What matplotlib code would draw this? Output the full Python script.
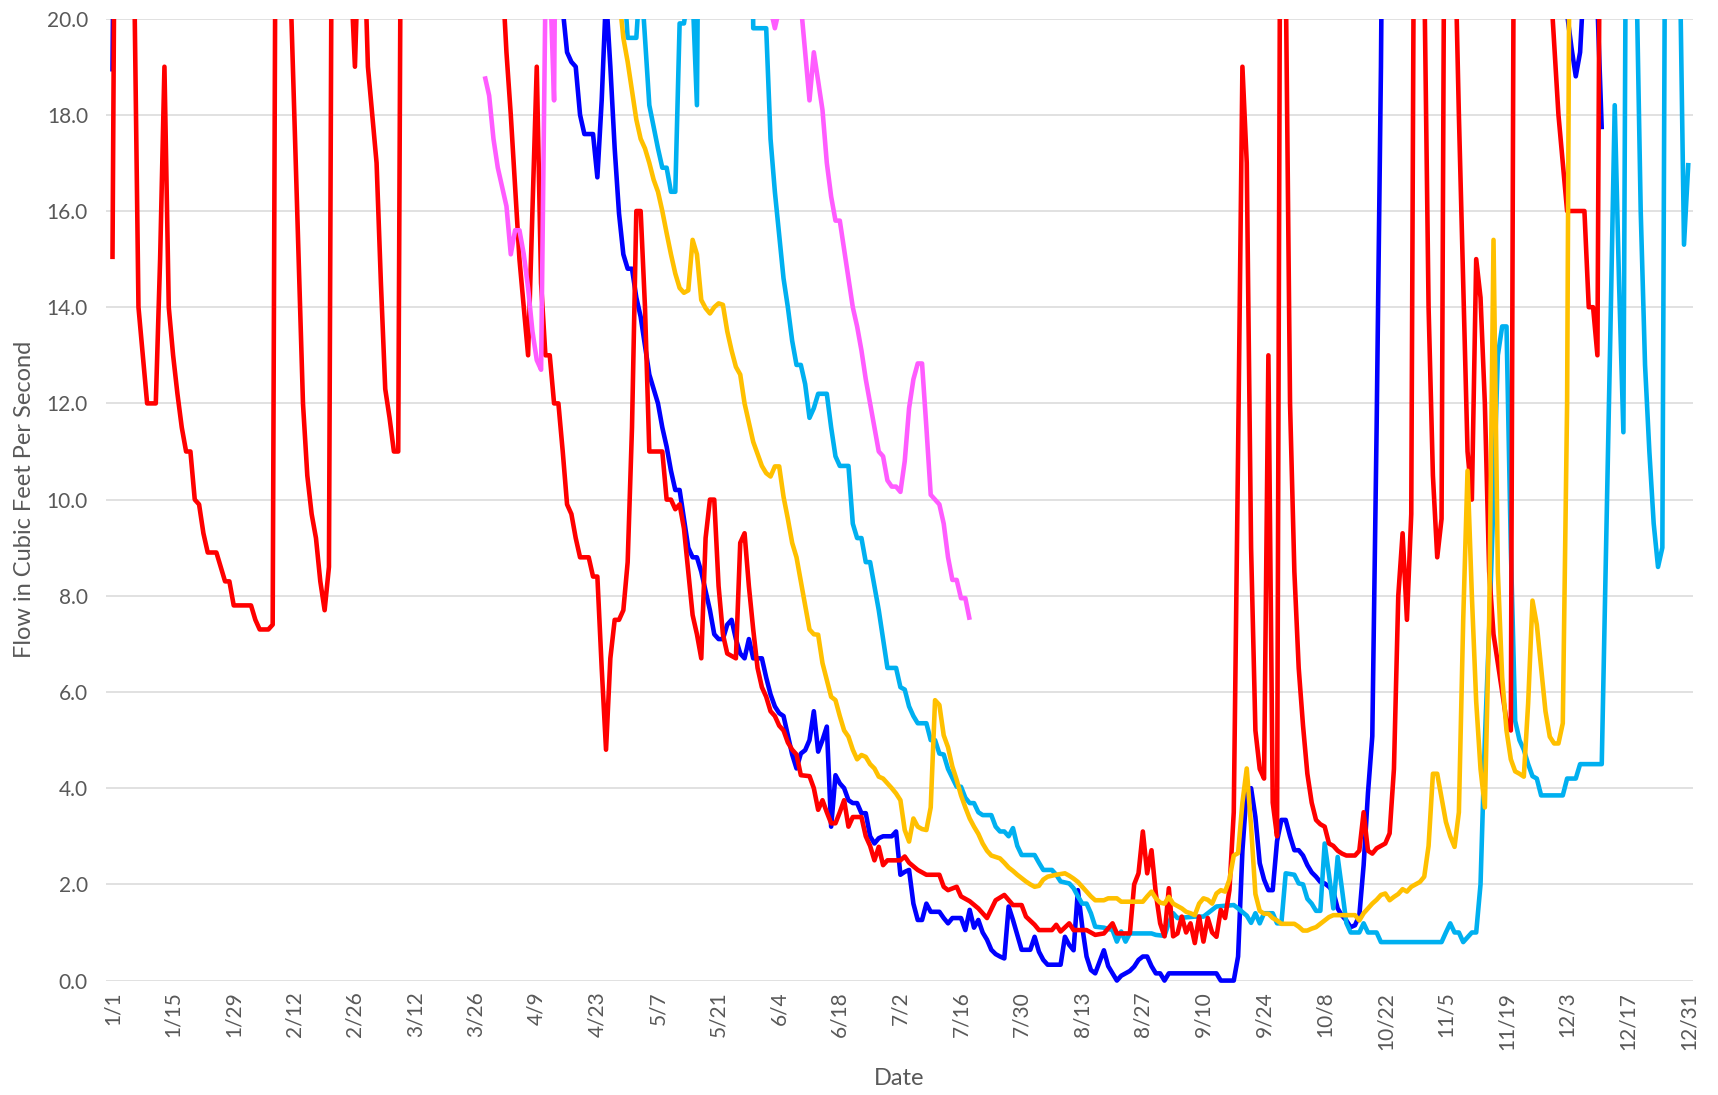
import matplotlib
matplotlib.use("Agg")
import matplotlib.pyplot as plt
import numpy as np
from matplotlib.patches import Rectangle

plt.rcParams['font.family'] = ['Lato', 'DejaVu Sans']

# day of year (0 = 1/1) and flow in cfs; values above 20 run off the top of the chart
red_days = [0, 1, 4, 5, 6, 7, 8, 10, 11, 12, 13, 14, 15, 16, 17, 18, 19, 20, 21, 22, 24, 25, 26, 27, 28, 32, 33, 34, 36, 37, 38,
            40, 41, 42, 43, 44, 45, 46, 47, 48, 49, 50, 51, 54, 55, 56, 57, 58, 59, 60, 61, 62, 63, 64, 65, 66, 67,
            89, 90, 91, 92, 93, 94, 95, 96, 97, 98, 99, 100, 101, 102, 103, 104, 105, 106, 107, 108, 110, 111, 112, 113,
            114, 115, 116, 117, 118, 119, 120, 121, 122, 123, 124, 127, 128, 129, 130, 131, 132, 133, 134, 135, 136, 137,
            138, 139, 140, 141, 142, 144, 145, 146, 147, 148, 149, 150, 151, 152, 153, 154, 155, 156, 157, 158, 159, 161,
            162, 163, 164, 165, 166, 167, 168, 169, 170, 171, 173, 174, 175, 176, 177, 178, 179, 182, 183, 184, 186, 188,
            191, 192, 193, 195, 196, 198, 200, 202, 204, 206, 208, 210, 211, 213, 214, 217, 218, 219, 221, 222, 225, 227,
            229, 231, 232, 235, 236, 237, 238, 239, 240, 241, 242, 243, 244, 245, 246, 247, 248, 249, 250, 251, 252, 253,
            254, 255, 256, 257, 258, 259, 260, 261, 262, 263, 264, 265, 266, 267, 268, 269, 270, 271, 272, 273, 274, 275,
            276, 277, 278, 279, 280, 281, 282, 283, 284, 285, 287, 288, 289, 290, 291, 292, 293, 294, 295, 296, 297, 298,
            299, 300, 301, 302, 303, 304, 305, 306, 307, 308, 309, 310, 311, 312, 313, 314, 315, 316, 317, 318, 319, 320,
            321, 322, 323, 324, 331, 332, 333, 334, 335, 336, 340, 341, 342, 343, 344]
red_flow = [15, 30, 30, 21, 14, 13, 12, 12, 15, 19, 14, 13, 12.2, 11.5, 11, 11, 10, 9.9, 9.3, 8.9, 8.9, 8.6, 8.3, 8.3, 7.8, 7.8, 7.5, 7.3, 7.3, 7.4, 30,
            30, 21, 18, 15, 12, 10.5, 9.7, 9.2, 8.3, 7.7, 8.6, 30, 30, 21, 19, 22, 22, 19, 18, 17, 14.5, 12.3, 11.7, 11, 11, 30,
            30, 21, 19.3, 18, 16.5, 15, 14, 13, 16, 19, 14.5, 13, 13, 12, 12, 11, 9.9, 9.7, 9.2, 8.8, 8.8, 8.4, 8.4, 6.5,
            4.8, 6.7, 7.5, 7.5, 7.7, 8.7, 11.5, 16, 16, 14, 11, 11, 10, 10, 9.8, 9.9, 9.4, 8.5, 7.6, 7.2, 6.7, 9.2,
            10, 10, 8.2, 7.2, 6.8, 6.7, 9.1, 9.3, 8.2, 7.3, 6.5, 6.1, 5.9, 5.6, 5.5, 5.3, 5.2, 4.95, 4.8, 4.7, 4.27, 4.25,
            4.0, 3.55, 3.75, 3.5, 3.27, 3.27, 3.5, 3.75, 3.2, 3.4, 3.4, 3.0, 2.8, 2.5, 2.78, 2.4, 2.5, 2.5, 2.58, 2.45, 2.3, 2.2,
            2.2, 1.95, 1.88, 1.95, 1.75, 1.65, 1.5, 1.3, 1.67, 1.78, 1.57, 1.57, 1.33, 1.16, 1.05, 1.05, 1.16, 1.02, 1.19, 1.05, 1.05, 0.95,
            0.98, 1.19, 0.98, 0.98, 2.0, 2.23, 3.1, 2.23, 2.71, 1.81, 1.19, 0.92, 1.92, 0.92, 0.98, 1.33, 1.0, 1.19, 0.78, 1.33, 0.81, 1.3,
            1.0, 0.91, 1.47, 1.3, 1.88, 3.5, 11, 19, 17, 9, 5.2, 4.4, 4.2, 13, 3.7, 3.0, 30, 21, 12, 8.5, 6.5, 5.3,
            4.3, 3.7, 3.34, 3.25, 3.2, 2.85, 2.8, 2.7, 2.64, 2.6, 2.6, 2.7, 3.5, 2.7, 2.64, 2.75, 2.8, 2.85, 3.06, 4.4, 8.0, 9.3,
            7.5, 9.7, 30, 30, 21, 14, 10.5, 8.8, 9.6, 30, 30, 22, 18, 14.5, 11, 10, 15, 14.2, 12, 8.5, 7.2, 6.6,
            6.0, 5.4, 5.2, 30, 30, 21, 19.5, 18, 17, 16, 16, 14, 14, 13, 30]

blue_days = [0, 1, 103, 104, 105, 106, 107, 108, 109, 111, 112, 113, 114, 115, 116, 117, 118, 119, 120, 121, 122, 123, 124,
             125, 126, 127, 128, 129, 130, 131, 132, 133, 134, 135, 136, 137, 138, 139, 140, 141, 142, 143, 144, 145, 146,
             147, 148, 150, 151, 152, 153, 154, 155, 156, 157, 158, 159, 160, 161, 162, 163, 164, 165, 166, 167, 168, 169,
             170, 171, 172, 173, 174, 175, 176, 177, 178, 180, 181, 182, 183, 184, 185, 186, 187, 188, 189, 191, 192, 193,
             194, 196, 197, 198, 199, 200, 201, 202, 203, 204, 205, 206, 207, 208, 209, 210, 212, 213, 214, 215, 216, 219,
             220, 221, 222, 223, 224, 225, 226, 227, 229, 230, 231, 232, 233, 234, 235, 236, 237, 238, 239, 240, 241, 242,
             243, 244, 255, 256, 259, 260, 261, 262, 263, 264, 265, 266, 267, 268, 269, 270, 271, 272, 273, 274, 275, 276,
             277, 278, 279, 280, 281, 282, 283, 284, 285, 286, 287, 288, 289, 290, 291, 292, 293, 294, 334, 335, 336, 337,
             338, 339, 340, 342, 343, 344]
blue_flow = [18.9, 30, 30, 20.2, 19.3, 19.1, 19.0, 18, 17.6, 17.6, 16.7, 18.3, 20.5, 19.0, 17.3, 15.95, 15.1, 14.8, 14.8, 14.2, 13.8, 13.2, 12.6,
             12.3, 12.0, 11.5, 11.1, 10.6, 10.2, 10.2, 9.6, 9.0, 8.8, 8.8, 8.5, 8.1, 7.7, 7.2, 7.1, 7.1, 7.4, 7.5, 7.1, 6.8, 6.7,
             7.1, 6.7, 6.7, 6.3, 5.95, 5.7, 5.56, 5.5, 5.1, 4.7, 4.41, 4.72, 4.79, 5.0, 5.6, 4.76, 5.0, 5.28, 3.2, 4.27, 4.1, 4.0,
             3.75, 3.69, 3.69, 3.48, 3.48, 3.0, 2.85, 2.96, 3.0, 3.0, 3.1, 2.2, 2.26, 2.3, 1.6, 1.26, 1.26, 1.6, 1.43, 1.43, 1.3, 1.19,
             1.3, 1.3, 1.05, 1.47, 1.1, 1.26, 1.0, 0.85, 0.64, 0.55, 0.5, 0.46, 1.54, 1.26, 0.95, 0.64, 0.64, 0.91, 0.6, 0.43, 0.33, 0.33,
             0.91, 0.74, 0.63, 1.88, 1.12, 0.5, 0.22, 0.15, 0.63, 0.3, 0.15, 0.0, 0.1, 0.15, 0.2, 0.29, 0.43, 0.5, 0.5, 0.3, 0.15, 0.15,
             0.0, 0.15, 0.15, 0.0, 0.0, 0.5, 2.7, 3.97, 4.0, 3.4, 2.44, 2.1, 1.88, 1.88, 2.9, 3.34, 3.34, 3.0, 2.71, 2.71, 2.6, 2.4,
             2.25, 2.16, 2.05, 2.02, 1.95, 1.85, 1.5, 1.35, 1.25, 1.11, 1.15, 1.35, 2.4, 3.9, 5.08, 11.5, 19, 30, 30, 20.5, 20.1, 19.4,
             18.8, 19.3, 21, 21, 20.3, 17.7]

ltblue_days = [117, 118, 119, 121, 122, 123, 124, 125, 126, 127, 128, 129, 130, 131, 132, 133, 134, 135, 136, 147, 148, 151, 152,
               153, 154, 155, 156, 157, 158, 159, 160, 161, 162, 163, 165, 166, 167, 168, 170, 171, 172, 173, 174, 175, 176,
               177, 178, 179, 181, 182, 183, 184, 185, 186, 188, 189, 190, 191, 192, 193, 195, 196, 197, 198, 199, 200, 201,
               203, 204, 205, 206, 207, 208, 209, 210, 213, 214, 215, 217, 218, 219, 221, 222, 223, 224, 225, 226, 227, 229,
               231, 232, 233, 234, 235, 240, 241, 243, 244, 245, 246, 250, 252, 254, 255, 259, 260, 262, 263, 264, 265, 266,
               268, 269, 270, 271, 273, 274, 275, 276, 277, 278, 279, 280, 281, 282, 283, 284, 285, 286, 288, 289, 290, 292,
               293, 307, 308, 309, 310, 311, 312, 313, 314, 315, 316, 317, 318, 319, 320, 321, 322, 323, 324, 325, 326, 327,
               328, 329, 330, 335, 336, 338, 339, 344, 345, 346, 347, 348, 349, 350, 351, 352, 353, 354, 355, 356, 357, 358,
               359, 361, 362, 363, 364]
ltblue_flow = [30, 21, 19.6, 19.6, 21, 19.6, 18.2, 17.75, 17.3, 16.9, 16.9, 16.4, 16.4, 19.9, 19.9, 20.5, 20.5, 18.2, 30, 30, 19.8, 19.8, 17.5,
               16.4, 15.5, 14.6, 14.0, 13.3, 12.8, 12.8, 12.4, 11.7, 11.9, 12.2, 12.2, 11.5, 10.9, 10.7, 10.7, 9.5, 9.2, 9.2, 8.7, 8.7, 8.2,
               7.7, 7.1, 6.5, 6.5, 6.1, 6.05, 5.7, 5.5, 5.35, 5.35, 5.0, 5.0, 4.72, 4.7, 4.4, 4.03, 4.03, 3.8, 3.69, 3.69, 3.5, 3.44,
               3.44, 3.2, 3.1, 3.1, 3.0, 3.17, 2.8, 2.61, 2.61, 2.45, 2.3, 2.3, 2.2, 2.06, 2.02, 1.92, 1.75, 1.6, 1.6, 1.4, 1.12, 1.1,
               1.05, 0.81, 1.02, 0.81, 0.98, 0.98, 0.95, 0.93, 1.2, 1.4, 1.3, 1.33, 1.33, 1.47, 1.54, 1.57, 1.5, 1.35, 1.2, 1.4, 1.19, 1.4,
               1.4, 1.19, 1.19, 2.23, 2.2, 2.02, 2.0, 1.7, 1.6, 1.45, 1.45, 2.85, 2.2, 1.5, 2.57, 1.9, 1.2, 1.0, 1.0, 1.19, 1.0, 1.0,
               0.8, 0.8, 1.0, 1.19, 1.0, 1.0, 0.8, 0.9, 1.0, 1.0, 2.0, 5.0, 7.3, 10, 13, 13.6, 13.6, 9, 5.4, 5.0, 4.8, 4.5,
               4.25, 4.2, 3.85, 3.85, 4.2, 4.2, 4.5, 4.5, 9, 13.5, 18.2, 14.5, 11.4, 30, 30, 21, 16, 12.8, 11, 9.5, 8.6, 9.0,
               30, 30, 21.5, 15.3, 17]

yellow_days = [116, 117, 118, 119, 120, 121, 122, 123, 124, 125, 126, 127, 128, 129, 130, 131, 132, 133, 134, 135, 136, 137, 138,
               139, 140, 141, 142, 143, 144, 145, 146, 147, 148, 149, 150, 151, 152, 153, 154, 155, 156, 157, 158, 159, 160,
               161, 162, 163, 164, 165, 166, 167, 168, 169, 170, 171, 172, 173, 174, 175, 176, 177, 178, 179, 180, 181, 182,
               183, 184, 185, 186, 187, 188, 189, 190, 191, 192, 193, 194, 195, 196, 197, 198, 199, 200, 201, 202, 203, 205,
               206, 207, 208, 209, 210, 211, 212, 213, 214, 215, 216, 218, 220, 221, 222, 223, 224, 225, 226, 227, 229, 230,
               232, 233, 238, 239, 240, 241, 242, 243, 244, 245, 246, 247, 248, 249, 250, 251, 252, 253, 254, 255, 256, 257,
               258, 259, 260, 261, 262, 263, 264, 265, 266, 267, 268, 269, 270, 273, 274, 275, 276, 277, 278, 279, 280, 281,
               282, 287, 288, 289, 290, 291, 292, 293, 294, 295, 296, 297, 298, 299, 300, 301, 302, 303, 304, 305, 306, 307,
               308, 309, 310, 311, 312, 313, 314, 315, 316, 317, 318, 319, 320, 321, 322, 323, 324, 325, 326, 327, 328, 329,
               330, 331, 332, 333, 334, 335, 336, 337]
yellow_flow = [30, 20.5, 19.6, 19.1, 18.5, 17.9, 17.5, 17.3, 17.0, 16.65, 16.4, 16.0, 15.54, 15.1, 14.7, 14.4, 14.3, 14.35, 15.4, 15.1, 14.15, 13.98, 13.87,
               14.0, 14.08, 14.05, 13.5, 13.1, 12.76, 12.6, 12.0, 11.6, 11.2, 10.95, 10.7, 10.55, 10.48, 10.69, 10.69, 10.06, 9.6, 9.1, 8.8, 8.3, 7.8,
               7.3, 7.2, 7.19, 6.6, 6.25, 5.9, 5.83, 5.5, 5.2, 5.07, 4.8, 4.6, 4.69, 4.65, 4.5, 4.41, 4.24, 4.2, 4.1, 4.0, 3.89, 3.75,
               3.13, 2.89, 3.37, 3.2, 3.15, 3.13, 3.6, 5.83, 5.73, 5.1, 4.85, 4.45, 4.17, 3.85, 3.6, 3.37, 3.2, 3.05, 2.85, 2.7, 2.6, 2.54,
               2.45, 2.35, 2.28, 2.2, 2.13, 2.06, 2.0, 1.95, 1.97, 2.1, 2.16, 2.2, 2.23, 2.18, 2.12, 2.05, 1.95, 1.85, 1.75, 1.67, 1.67, 1.71,
               1.71, 1.64, 1.64, 1.75, 1.85, 1.71, 1.62, 1.6, 1.74, 1.6, 1.55, 1.5, 1.43, 1.4, 1.36, 1.6, 1.71, 1.68, 1.6, 1.81, 1.88, 1.85,
               2.1, 2.6, 2.65, 3.7, 4.41, 3.2, 1.8, 1.45, 1.39, 1.39, 1.3, 1.25, 1.18, 1.18, 1.12, 1.04, 1.04, 1.08, 1.11, 1.18, 1.25, 1.32,
               1.36, 1.36, 1.25, 1.4, 1.5, 1.6, 1.68, 1.78, 1.81, 1.67, 1.74, 1.8, 1.9, 1.85, 1.95, 2.0, 2.05, 2.16, 2.8, 4.3, 4.3, 3.8,
               3.3, 3.0, 2.78, 3.5, 7.5, 10.6, 8.0, 5.8, 4.4, 3.6, 7.5, 15.4, 8.5, 6.3, 5.2, 4.6, 4.35, 4.3, 4.24, 5.76, 7.9, 7.4,
               6.5, 5.6, 5.07, 4.93, 4.93, 5.35, 12, 30]

magenta_days = [86, 87, 88, 89, 90, 91, 92, 93, 94, 95, 96, 97, 98, 99, 100, 101, 102, 103, 151, 152, 153, 154, 155, 158, 159,
                160, 161, 162, 163, 164, 165, 166, 167, 168, 169, 170, 171, 172, 173, 174, 175, 176, 177, 178, 179, 180, 181,
                182, 183, 184, 185, 186, 187, 188, 189, 190, 191, 192, 193, 194, 195, 196, 197, 198]
magenta_flow = [18.8, 18.4, 17.5, 16.9, 16.5, 16.1, 15.1, 15.6, 15.6, 15.1, 14.4, 13.5, 12.9, 12.7, 20.5, 21, 18.3, 30, 30, 20.2, 19.8, 20.2, 30, 30, 20.3,
                19.3, 18.3, 19.3, 18.7, 18.1, 17.0, 16.3, 15.8, 15.8, 15.2, 14.6, 14.0, 13.6, 13.1, 12.5, 12.0, 11.5, 11.0, 10.9, 10.4, 10.27, 10.27,
                10.16, 10.8, 11.9, 12.5, 12.83, 12.83, 11.5, 10.1, 10.0, 9.9, 9.5, 8.8, 8.33, 8.33, 7.95, 7.95, 7.5]

tick_days = list(range(0, 365, 14))
tick_labels = ['1/1', '1/15', '1/29', '2/12', '2/26', '3/12', '3/26', '4/9', '4/23', '5/7', '5/21', '6/4', '6/18',
               '7/2', '7/16', '7/30', '8/13', '8/27', '9/10', '9/24', '10/8', '10/22', '11/5', '11/19', '12/3',
               '12/17', '12/31']

series = [
    (blue_days, blue_flow, '#0000FF'),
    (ltblue_days, ltblue_flow, '#00B0F0'),
    (red_days, red_flow, '#FF0000'),
    (yellow_days, yellow_flow, '#FFC000'),
    (magenta_days, magenta_flow, '#FF5CFF'),
]

fig = plt.figure(figsize=(17.18, 10.95), dpi=100)
ax = fig.add_axes([0.0617, 0.1045, 0.9238, 0.8785])

# clip at the 20 cfs line, but let lines at zero keep their full width
clip = Rectangle((0, -0.03), 1, 1.03, transform=ax.transAxes, facecolor='none', edgecolor='none')
ax.add_patch(clip)
for d, v, c in series:
    ln, = ax.plot(d, v, color=c, lw=3.3, solid_joinstyle='round', solid_capstyle='butt')
    ln.set_clip_path(clip)

ax.set_xlim(-1.5, 365.1)
ax.set_ylim(0, 20)
ax.set_yticks(np.arange(0, 21, 2))
ax.set_yticklabels([f'{v:.1f}' for v in np.arange(0, 21, 2)])
ax.set_xticks(tick_days)
ax.set_xticklabels(tick_labels, rotation=90)
ax.yaxis.grid(True, color='#D9D9D9', lw=1.1)
ax.set_axisbelow(True)
for s in ax.spines.values():
    s.set_visible(False)
ax.tick_params(axis='both', length=0, colors='#595959', labelsize=15)
ax.tick_params(axis='y', pad=13)
ax.tick_params(axis='x', pad=8)

ax.set_xlabel('Date', fontsize=17, color='#595959')
ax.set_ylabel('Flow in Cubic Feet Per Second', fontsize=17, color='#595959')
ax.xaxis.set_label_coords(0.5, -0.091)
ax.yaxis.set_label_coords(-0.045, 0.5)

fig.savefig('out.png', dpi=100, facecolor='white')
